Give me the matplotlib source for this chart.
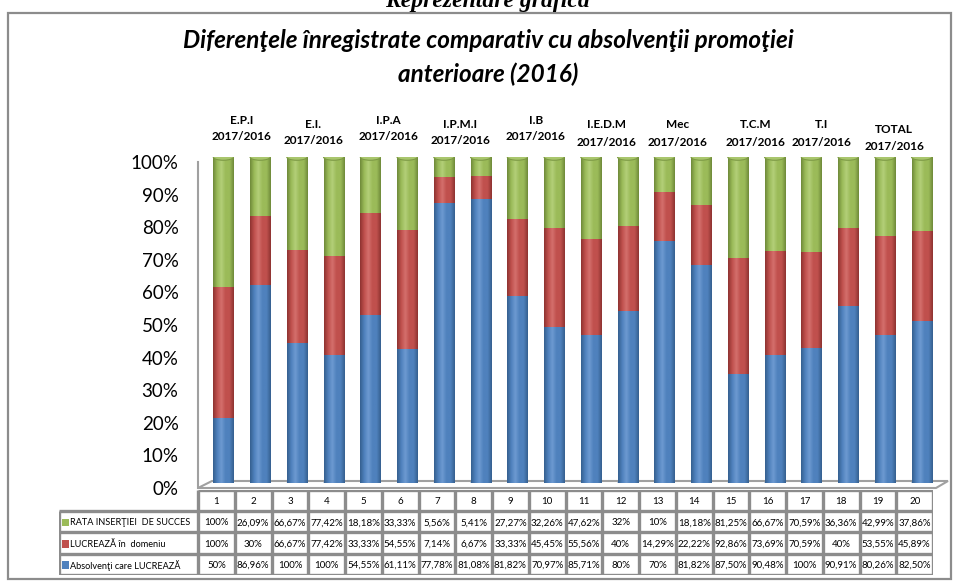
import numpy as np
import matplotlib
matplotlib.use("Agg")
import matplotlib.pyplot as plt
from matplotlib.colors import LinearSegmentedColormap
from matplotlib.patches import Ellipse, Rectangle, Polygon

# Data
col_ids = [str(i) for i in range(1, 21)]
groups = ["E.P.I", "E.I.", "I.P.A", "I.P.M.I", "I.B",
          "I.E.D.M", "Mec", "T.C.M", "T.I", "TOTAL"]
group_year = "2017/2016"

rata = [100, 26.09, 66.67, 77.42, 18.18, 33.33, 5.56, 5.41, 27.27, 32.26,
        47.62, 32, 10, 18.18, 81.25, 66.67, 70.59, 36.36, 42.99, 37.86]
lucreaza = [100, 30, 66.67, 77.42, 33.33, 54.55, 7.14, 6.67, 33.33, 45.45,
            55.56, 40, 14.29, 22.22, 92.86, 73.69, 70.59, 40, 53.55, 45.89]
absolventi = [50, 86.96, 100, 100, 54.55, 61.11, 77.78, 81.08, 81.82, 70.97,
              85.71, 80, 70, 81.82, 87.50, 90.48, 100, 90.91, 80.26, 82.50]

series_names = ["RATA INSERŢIEI  DE SUCCES", "LUCREAZĂ în  domeniu",
                "Absolvenţi care LUCREAZĂ"]
ytick_vals = [0, 0.1, 0.2, 0.3, 0.4, 0.5, 0.6, 0.7, 0.8, 0.9, 1.0]
ytick_labels = ["0%", "10%", "20%", "30%", "40%", "50%",
                "60%", "70%", "80%", "90%", "100%"]

# Colours (Excel 2007 palette)
c_blue = "#4F81BD"
c_red = "#C0504D"
c_green = "#9BBB59"
grid_gray = "#8c8c8c"

FONT = ["Lato", "DejaVu Sans"]

# pixel layout helpers
W, H = 956, 581
def fx(px):
    return px / W
def fy(py):
    return 1 - py / H

fig = plt.figure(figsize=(9.56, 5.81), dpi=100)

# outer chart frame
fig.patches.append(Rectangle((fx(8), fy(579)), fx(951) - fx(8), fy(13) - fy(579),
                             transform=fig.transFigure, fill=False,
                             ec=grid_gray, lw=1.6))

# cut heading above the chart
fig.text(fx(487), fy(7), "Reprezentare grafică", family="Liberation Serif",
         weight="bold", style="italic", fontsize=17, ha="center", va="baseline")

# title
fig.text(fx(488), fy(41), "Diferenţele înregistrate comparativ cu absolvenţii promoţiei",
         family=FONT, weight="bold", style="italic", fontsize=17.5,
         ha="center", va="center")
fig.text(fx(488), fy(74), "anterioare (2016)",
         family=FONT, weight="bold", style="italic", fontsize=17.5,
         ha="center", va="center")

# axis with the tick labels, left wall and floor
ax_l, ax_r, ax_t, ax_b = 198, 933, 162, 488
ax = fig.add_axes([fx(ax_l), fy(ax_b), fx(ax_r) - fx(ax_l), fy(ax_t) - fy(ax_b)])
ax.set_xlim(-0.5, 19.5)
ax.set_ylim(0, 1)
ax.set_yticks(ytick_vals)
ax.set_yticklabels(ytick_labels, family=FONT, fontsize=13.5)
ax.tick_params(axis="y", length=0, pad=14)
ax.set_xticks([])
for s in ["top", "right", "bottom"]:
    ax.spines[s].set_visible(False)
ax.spines["left"].set_color("#a0a0a0")
ax.spines["left"].set_linewidth(1.5)
ax.patch.set_visible(False)

# 3D floor (front edge at the axis bottom, back edge shifted)
aw, ah = ax_r - ax_l, ax_b - ax_t
floor = Polygon([(0, 0), (14 / aw, 7 / ah), (1 + 15 / aw, 7 / ah), (1 + 3 / aw, 0)],
                closed=True, transform=ax.transAxes, fc="white", ec="#a0a0a0",
                lw=1.5, clip_on=False)
ax.add_patch(floor)

# axis holding the bars, offset for the depth effect
bx, by = 7, 5
axb = fig.add_axes([fx(ax_l + bx), fy(ax_b - by), fx(ax_r) - fx(ax_l), fy(ax_t) - fy(ax_b)])
axb.set_xlim(-0.5, 19.5)
axb.set_ylim(0, 1)
axb.axis("off")

tot = np.array(rata) + np.array(lucreaza) + np.array(absolventi)
p_blue = np.array(absolventi) / tot
p_red = np.array(lucreaza) / tot
p_green = np.array(rata) / tot
x = np.arange(len(col_ids))
bw = 0.55

def cyl_cmap(base, dark, light):
    return LinearSegmentedColormap.from_list("c", [dark, base, light, base, base, dark])

layers = [
    (p_blue, np.zeros(len(x)), c_blue, cyl_cmap(c_blue, "#35608f", "#6d9ad1")),
    (p_red, p_blue, c_red, cyl_cmap(c_red, "#8e3331", "#d46f6c")),
    (p_green, p_blue + p_red, c_green, cyl_cmap(c_green, "#6f8a3a", "#b3cf78")),
]
grad = np.linspace(0, 1, 64).reshape(1, -1)
eh = 0.02
for vals, bottoms, col, cm in layers:
    bars = axb.bar(x, vals, bw, bottom=bottoms, color=col, lw=0)
    for rect in bars:
        x0, y0 = rect.get_x(), rect.get_y()
        im = axb.imshow(grad, extent=(x0, x0 + rect.get_width(), y0, y0 + rect.get_height()),
                        cmap=cm, aspect="auto", interpolation="bilinear", zorder=2)
        im.set_clip_path(rect)

# rounded bottoms and tops of the cylinders
for i in x:
    axb.add_patch(Ellipse((i, 0), bw, eh, fc="#3f6ea6", ec="none", zorder=1.5))
    axb.add_patch(Ellipse((i, 1), bw, eh, fc="#a9c66d", ec="#7d9a45", lw=0.8, zorder=3))
axb.set_xlim(-0.5, 19.5)
axb.set_ylim(0, 1)

# group labels above bar pairs
label_dx = [0, -2, 0, -2, 0, -3, -5, -1, -8, -9]
label_dy = [0, 4, 0, 4, 0, 5, 5, 5, 5, 9]
pair_px = 2 * (ax_r - ax_l) / 20
for g, name in enumerate(groups):
    cx = ax_l + bx + pair_px * (g + 0.5) + label_dx[g]
    fig.text(fx(cx), fy(120 + label_dy[g]), name, family=FONT, weight="bold",
             fontsize=8.5, ha="center", va="center")
    fig.text(fx(cx), fy(137 + label_dy[g]), group_year, family=FONT, weight="bold",
             fontsize=8.5, ha="center", va="center")

# data table
t_top, row_h = 490, 21.2
lab_l = 59
tab = fig.add_axes([fx(lab_l), fy(t_top + 4 * row_h), fx(ax_r) - fx(lab_l),
                    fy(t_top) - fy(t_top + 4 * row_h)])
col_w = (ax_r - ax_l) / 20
lab_units = (ax_l - lab_l) / col_w
tab.set_xlim(-lab_units, 20)
tab.set_ylim(4, 0)
tab.axis("off")

line_kw = dict(color=grid_gray, lw=2.4, solid_capstyle="butt")
# horizontal rules
tab.plot([0, 20], [0, 0], **line_kw)
for r in range(1, 5):
    tab.plot([-lab_units, 20], [r, r], **line_kw)
# vertical rules
tab.plot([-lab_units, -lab_units], [1, 4], **line_kw)
for c in range(21):
    tab.plot([c, c], [0, 4], **line_kw)

def fmt(v):
    if float(v).is_integer():
        return "%d%%" % v
    return ("%.2f%%" % v).replace(".", ",")

for c, cid in enumerate(col_ids):
    tab.text(c + 0.5, 0.55, cid, family=FONT, fontsize=7, ha="center", va="center")
row_data = [rata, lucreaza, absolventi]
row_cols = [c_green, c_red, c_blue]
for r in range(3):
    for c in range(20):
        tab.text(c + 0.5, r + 1.55, fmt(row_data[r][c]), family=FONT, fontsize=7,
                 ha="center", va="center")
    tab.add_patch(Rectangle((-lab_units + 0.09, r + 1.36), 0.18, 0.36, fc=row_cols[r],
                            ec="none"))
    tab.text(-lab_units + 0.31, r + 1.55, series_names[r], family=FONT, fontsize=6.6,
             ha="left", va="center")

fig.savefig("out.png", dpi=100)
